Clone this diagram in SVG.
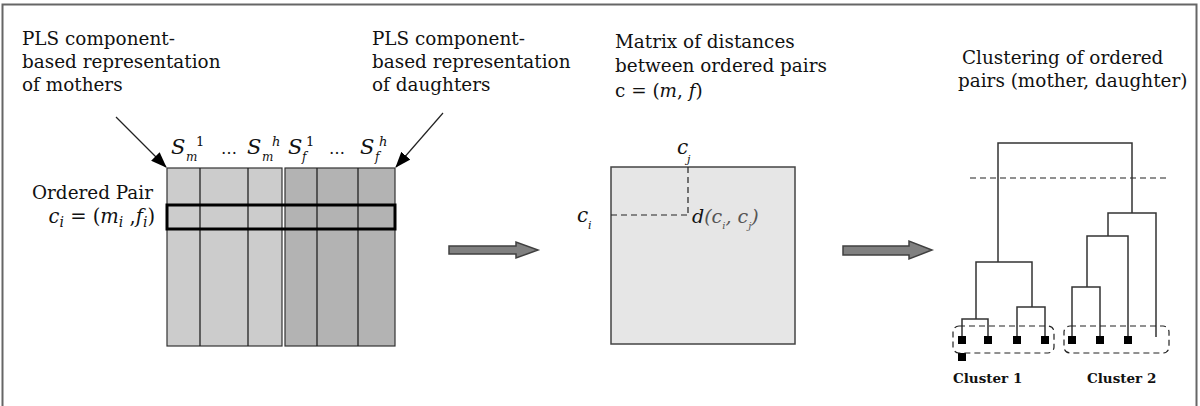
<svg xmlns="http://www.w3.org/2000/svg" width="1200" height="406" viewBox="0 0 1200 406">
<style>
text{fill:#111;font-family:"DejaVu Serif",serif}
.lbl{font-size:18.4px}
.it{font-style:italic}
.cl{font-size:13.5px;font-weight:bold}
.ln{stroke:#222;stroke-width:1.3;fill:none}
.dn{stroke:#333;stroke-width:1.5;fill:none}
.dash{stroke:#222;stroke-width:1.2;fill:none;stroke-dasharray:6 4}
.big{fill:#808080;stroke:#404040;stroke-width:1.5}
.leaf{fill:#000}
</style>
<defs>
<marker id="ah" viewBox="0 0 16 12" refX="15" refY="6" markerWidth="16" markerHeight="12" markerUnits="userSpaceOnUse" orient="auto">
<path d="M0,0 L16,6 L0,12 z" fill="#000"/>
</marker>
</defs>
<rect x="2.5" y="4.5" width="1194" height="420" fill="#fff" stroke="#666" stroke-width="2"/>

<g id="label-mothers">
<text class="lbl" x="22" y="45">PLS component-</text>
<text class="lbl" x="22" y="68">based representation</text>
<text class="lbl" x="22" y="91">of mothers</text>
</g>
<g id="label-daughters">
<text class="lbl" x="372" y="45">PLS component-</text>
<text class="lbl" x="372" y="68">based representation</text>
<text class="lbl" x="372" y="91">of daughters</text>
</g>

<g id="pls-matrix">
<rect x="167" y="168" width="115" height="178" fill="#cccccc" stroke="#333" stroke-width="1.2"/>
<line class="ln" x1="200" y1="168" x2="200" y2="346"/>
<line class="ln" x1="248" y1="168" x2="248" y2="346"/>
<rect x="285" y="168" width="110" height="178" fill="#b3b3b3" stroke="#333" stroke-width="1.2"/>
<line class="ln" x1="317" y1="168" x2="317" y2="346"/>
<line class="ln" x1="358" y1="168" x2="358" y2="346"/>
<rect x="167" y="205" width="228" height="24" fill="none" stroke="#000" stroke-width="3"/>
<text class="it" font-size="21" x="171" y="154">S</text><text class="it" font-size="12" x="186" y="161">m</text><text font-size="13" x="196" y="146">1</text>
<text font-size="16" x="221" y="154">…</text>
<text class="it" font-size="21" x="247" y="154">S</text><text class="it" font-size="12" x="262" y="161">m</text><text class="it" font-size="13" x="272" y="146">h</text>
<text class="it" font-size="21" x="288" y="154">S</text><text class="it" font-size="12" x="302" y="161">f</text><text font-size="13" x="306" y="146">1</text>
<text font-size="16" x="329" y="154">…</text>
<text class="it" font-size="21" x="360" y="154">S</text><text class="it" font-size="12" x="375" y="161">f</text><text class="it" font-size="13" x="379" y="146">h</text>
</g>

<g id="ordered-pair">
<text class="lbl" x="153" y="199" text-anchor="end">Ordered Pair</text>
<text font-size="19.5" x="155" y="223" text-anchor="end"><tspan class="it">c</tspan><tspan class="it" font-size="14" dy="4">i</tspan><tspan dy="-4"> = (</tspan><tspan class="it">m</tspan><tspan class="it" font-size="14" dy="4">i</tspan><tspan dy="-4"> ,</tspan><tspan class="it">f</tspan><tspan class="it" font-size="14" dy="4">i</tspan><tspan dy="-4">)</tspan></text>
</g>

<g id="label-distances">
<text class="lbl" x="615" y="48">Matrix of distances</text>
<text class="lbl" x="615" y="72">between ordered pairs</text>
<text font-size="18.4" x="615" y="97">c = (<tspan class="it">m</tspan>, <tspan class="it">f</tspan>)</text>
</g>

<g id="distance-matrix">
<rect x="611" y="167" width="184" height="177" fill="#e6e6e6" stroke="#444" stroke-width="1.5"/>
<line class="dash" x1="688" y1="167" x2="688" y2="215"/>
<line class="dash" x1="611" y1="215" x2="688" y2="215"/>
<text class="it" font-size="20" x="677" y="154">c</text><text class="it" font-size="11" x="687" y="163">j</text>
<text class="it" font-size="20" x="577" y="222">c</text><text class="it" font-size="11" x="588" y="229">i</text>
<text class="it" font-size="19" x="692" y="223">d<tspan fill="#555">(c</tspan><tspan font-size="10" dy="6" fill="#555">i</tspan><tspan dy="-6" fill="#555">, c</tspan><tspan font-size="10" dy="6" fill="#555">j</tspan><tspan dy="-6" fill="#555">)</tspan></text>
</g>

<g id="label-clustering">
<text class="lbl" x="962" y="64">Clustering of ordered</text>
<text class="lbl" x="958" y="87">pairs (mother, daughter)</text>
</g>

<g id="dendrogram">
<line class="dash" x1="970" y1="178" x2="1167" y2="178"/>
<polyline class="dn" points="998,262 998,143 1132,143 1132,213"/>
<polyline class="dn" points="976,319 976,262 1032,262 1032,307"/>
<polyline class="dn" points="962,336 962,319 988,319 988,336"/>
<polyline class="dn" points="1017,336 1017,307 1045,307 1045,336"/>
<polyline class="dn" points="1108,236 1108,213 1156,213 1156,337"/>
<polyline class="dn" points="1087,287 1087,236 1128,236 1128,336"/>
<polyline class="dn" points="1072,336 1072,287 1100,287 1100,336"/>
<rect class="leaf" x="958" y="336" width="8" height="8"/>
<rect class="leaf" x="984" y="336" width="8" height="8"/>
<rect class="leaf" x="1013" y="336" width="8" height="8"/>
<rect class="leaf" x="1041" y="336" width="8" height="8"/>
<rect class="leaf" x="1068" y="336" width="8" height="8"/>
<rect class="leaf" x="1096" y="336" width="8" height="8"/>
<rect class="leaf" x="1124" y="336" width="8" height="8"/>
<rect class="leaf" x="958" y="353" width="8" height="8"/>
</g>

<g id="cluster-1">
<rect class="dash" x="953" y="326" width="101" height="27" rx="6"/>
<text class="cl" x="953" y="383">Cluster 1</text>
</g>
<g id="cluster-2">
<rect class="dash" x="1064" y="326" width="105" height="27" rx="6"/>
<text class="cl" x="1087" y="383">Cluster 2</text>
</g>

<g id="connectors">
<line x1="116" y1="117" x2="166" y2="167" stroke="#222" stroke-width="1.2" marker-end="url(#ah)"/>
<line x1="443" y1="113" x2="396" y2="167" stroke="#222" stroke-width="1.2" marker-end="url(#ah)"/>
<polygon class="big" points="449,246 516,246 516,242 538,250 516,258 516,254 449,254"/>
<polygon class="big" points="843,246 909,246 909,241 932,250 909,259 909,255 843,255"/>
</g>
</svg>
